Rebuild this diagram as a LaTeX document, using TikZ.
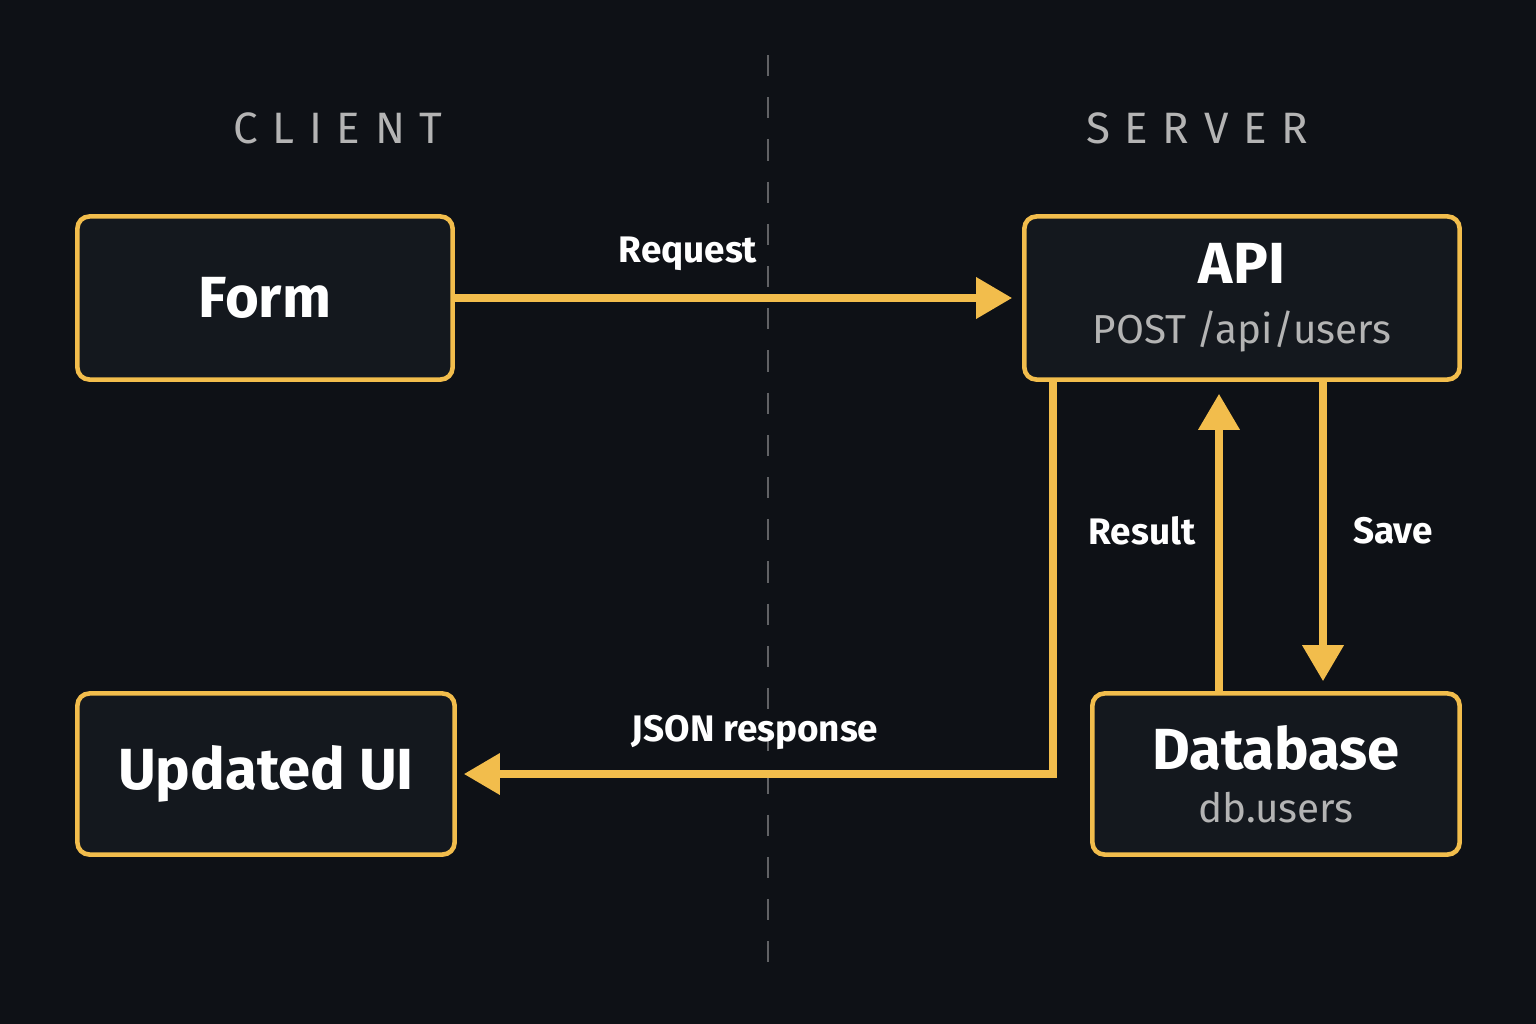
\documentclass[tikz,border=0pt]{standalone}
\usepackage{fontspec}
\setmainfont{Fira Sans}
\usetikzlibrary{arrows.meta}
\definecolor{bgcol}{HTML}{0E1116}
\definecolor{boxcol}{HTML}{14181E}
\definecolor{gold}{HTML}{F2BD4C}
\definecolor{greytxt}{HTML}{B4B4B4}
\tikzset{
	box/.style={draw=gold, line width=1.3pt, fill=boxcol, rounded corners=0.12cm, align=center, inner sep=0pt},
	flow/.style={draw=gold, line width=2pt, -{Triangle[length=0.36cm,width=0.4cm]}},
	lbl/.style={text=white, font=\fontsize{10.5}{13}\selectfont\bfseries},
	side/.style={text=greytxt, font=\fontsize{12.5}{15}\selectfont}
}
\begin{document}
\begin{tikzpicture}[x=0.01cm, y=-0.01cm]
			% background
			\fill[bgcol] (0,0) rectangle (1536,1024);
			\useasboundingbox (0,0) rectangle (1536,1024);

			% divider
			\draw[greytxt!50!bgcol, line width=0.8pt, dash pattern=on 6pt off 6pt] (768,55) -- (768,975);

			% side titles
			\node[side] (client) at (338,128) {C\,\,L\,\,I\,\,E\,\,N\,\,T};
			\node[side] (server) at (1197,128) {S\,\,E\,\,R\,\,V\,\,E\,\,R};

			% boxes
			\node[box, minimum width=3.75cm, minimum height=1.63cm] (form) at (265,298)
				{\fontsize{16.5}{19}\selectfont\bfseries\color{white}Form};
			\node[box, minimum width=4.35cm, minimum height=1.63cm] (api) at (1242,298)
				{\fontsize{16.5}{19}\selectfont\bfseries\color{white}API\\[5pt]
				 \fontsize{11.5}{14}\selectfont\color{greytxt}POST /api/users};
			\node[box, minimum width=3.77cm, minimum height=1.61cm] (ui) at (266,774)
				{\fontsize{16.5}{19}\selectfont\bfseries\color{white}Updated UI};
			\node[box, minimum width=3.67cm, minimum height=1.61cm] (db) at (1276,774)
				{\fontsize{16.5}{19}\selectfont\bfseries\color{white}Database\\[3pt]
				 \fontsize{11.5}{14}\selectfont\color{greytxt}db.users};

			% request
			\draw[flow] (form.east) -- ([xshift=-0.1cm]api.west);
			\node[lbl] (reqlbl) at (688,254) {Request};

			% json response
			\coordinate (bend) at (1053,774);
			\draw[flow] (api.south -| bend) -- (bend) -- ([xshift=0.07cm]ui.east);
			\node[lbl] (jsonlbl) at (755,732) {JSON response};

			% result and save
			\coordinate (resx) at (1219,0);
			\coordinate (savex) at (1323,0);
			\draw[flow] (db.north -| resx) -- ([yshift=-0.12cm]api.south -| resx);
			\draw[flow] (api.south -| savex) -- ([yshift=0.1cm]db.north -| savex);
			\node[lbl] (reslbl) at (1142,531) {Result};
			\node[lbl] (savelbl) at (1393,531) {Save};
\end{tikzpicture}
\end{document}
